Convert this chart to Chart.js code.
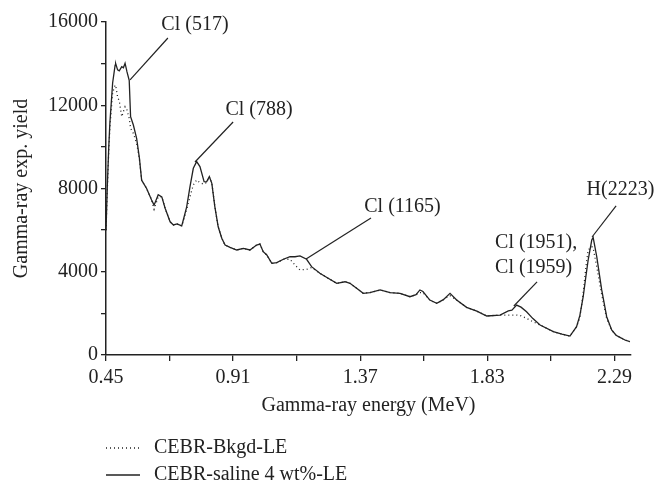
<!DOCTYPE html>
<html>
<head>
<meta charset="utf-8">
<script src="https://cdn.jsdelivr.net/npm/chart.js@4"></script>
<style>
  body{margin:0;background:#fff;}
  #wrap{width:657px;height:483px;}
</style>
</head>
<body>
<div id="wrap"><canvas id="chart" width="657" height="483"></canvas></div>
<script>
// Données
const energy=[0.450,0.455,0.460,0.464,0.474,0.483,0.485,0.492,0.498,0.507,
  0.513,0.519,0.526,0.534,0.539,0.549,0.561,0.571,0.579,0.597,
  0.615,0.624,0.639,0.652,0.664,0.682,0.694,0.707,0.724,0.730,
  0.742,0.754,0.766,0.778,0.790,0.805,0.814,0.824,0.833,0.844,
  0.856,0.869,0.881,0.899,0.923,0.947,0.971,0.995,1.007,1.019,
  1.032,1.050,1.068,1.092,1.116,1.134,1.152,1.176,1.194,1.224,
  1.254,1.285,1.315,1.333,1.357,1.381,1.405,1.442,1.478,1.514,
  1.550,1.572,1.586,1.597,1.622,1.647,1.671,1.695,1.719,1.755,
  1.792,1.828,1.876,1.906,1.919,1.936,1.952,1.972,1.995,2.021,
  2.069,2.100,2.129,2.153,2.165,2.177,2.187,2.195,2.208,2.213,
  2.226,2.244,2.262,2.280,2.296,2.310,2.328,2.346];

const saline=[6000,8200,10000,11150,13070,13930,14000,13700,13650,13850,
  13800,14020,13600,13200,11450,11050,10400,9450,8400,8000,
  7450,7200,7700,7600,7050,6400,6250,6300,6200,6500,
  7120,8090,8970,9290,9050,8330,8320,8570,8250,7120,
  6160,5610,5285,5175,5045,5125,5045,5285,5330,4965,
  4805,4405,4435,4600,4725,4720,4760,4600,4245,3925,
  3685,3445,3520,3445,3205,2965,3000,3125,3000,2965,
  2800,2900,3125,3050,2640,2480,2660,2965,2640,2290,
  2110,1875,1920,2120,2150,2400,2300,2080,1750,1440,
  1120,1000,910,1360,1900,2800,3800,4565,5525,5650,
  4725,3125,1840,1200,950,850,720,640];

const bkgd=[6000,8000,9800,10900,12600,12970,12950,12400,12200,11450,
  11700,11930,11770,11370,10900,10650,10170,9400,8400,8000,
  7450,7000,7600,7600,7050,6400,6250,6300,6200,6450,
  7000,7610,8170,8410,8280,8200,8300,8570,8250,7120,
  6160,5610,5285,5175,5045,5125,5045,5285,5330,4965,
  4805,4405,4435,4600,4600,4325,4085,4115,4200,3925,
  3685,3445,3520,3445,3205,2965,3000,3125,3000,2965,
  2800,2900,3000,3000,2640,2480,2660,2850,2640,2290,
  2110,1875,1920,1920,1920,1920,1880,1760,1600,1440,
  1120,1000,910,1360,1800,3000,4245,5045,5205,5150,
  4245,2900,1750,1200,950,850,720,640];

const xTickValues=[0.45,0.68,0.91,1.14,1.37,1.60,1.83,2.06,2.29];
const xTickLabels=["0.45","","0.91","","1.37","","1.83","","2.29"];
const yTickValues=[0,2000,4000,6000,8000,10000,12000,14000,16000];
const yTickLabels=["0","","4000","","8000","","12000","","16000"];

// Étiquettes des pics : texte, position du texte, trait de rappel (en unités des axes)
const peakLabels=[
  {text:["Cl (517)"],at:[0.772,15857],align:"center",from:[0.674,15230],to:[0.537,13215]},
  {text:["Cl (788)"],at:[1.004,11772],align:"center",from:[0.910,11195],to:[0.772,9275]},
  {text:["Cl (1165)"],at:[1.523,7111],align:"center",from:[1.409,6580],to:[1.174,4610]},
  {text:["Cl (1951),","Cl (1959)"],at:[1.858,5382],align:"left",from:[2.010,3510],to:[1.926,2355]},
  {text:["H(2223)"],at:[2.312,7928],align:"center",from:[2.296,7160],to:[2.209,5670]}
];

const FONT="'Liberation Serif', 'DejaVu Serif', serif";
const FSIZE=20;
const INK="#222";
Chart.defaults.font.family=FONT;
Chart.defaults.font.size=FSIZE;
Chart.defaults.color=INK;

// ---------- Plugins ----------
const peakLabelPlugin={
  id:"peakLabels",
  afterDatasetsDraw(chart){
    const {ctx,scales:{x,y}}=chart;
    ctx.save();
    ctx.strokeStyle=INK; ctx.lineWidth=1.2; ctx.fillStyle=INK;
    ctx.font=`${FSIZE}px ${FONT}`; ctx.textBaseline="middle";
    peakLabels.forEach(p=>{
      ctx.beginPath();
      ctx.moveTo(x.getPixelForValue(p.from[0]),y.getPixelForValue(p.from[1]));
      ctx.lineTo(x.getPixelForValue(p.to[0]),y.getPixelForValue(p.to[1]));
      ctx.stroke();
      ctx.textAlign=p.align;
      const tx=x.getPixelForValue(p.at[0]),ty=y.getPixelForValue(p.at[1]);
      p.text.forEach((t,i)=>ctx.fillText(t,tx,ty+i*25));
    });
    ctx.restore();
  }
};

const legendPlugin={
  id:"bottomLegend",
  afterDraw(chart){
    const {ctx,chartArea}=chart;
    ctx.save();
    ctx.font=`${FSIZE}px ${FONT}`; ctx.textBaseline="middle"; ctx.textAlign="left"; ctx.fillStyle=INK;
    chart.data.datasets.forEach((ds,i)=>{
      const yy=chartArea.bottom+93+i*27;
      ctx.beginPath();
      ctx.strokeStyle=ds.borderColor; ctx.lineWidth=ds.borderWidth;
      ctx.setLineDash(ds.borderDash||[]);
      ctx.moveTo(chartArea.left,yy); ctx.lineTo(chartArea.left+34,yy);
      ctx.stroke();
      ctx.setLineDash([]);
      ctx.fillText(ds.label,chartArea.left+48,yy);
    });
    ctx.restore();
  }
};

// ---------- Chart ----------
new Chart(document.getElementById("chart"),{
  type:"line",
  data:{datasets:[
    {label:"CEBR-Bkgd-LE",data:energy.map((e,i)=>({x:e,y:bkgd[i]})),borderColor:INK,borderWidth:1.3,borderDash:[1,3],pointRadius:0,tension:0,fill:false},
    {label:"CEBR-saline 4 wt%-LE",data:energy.map((e,i)=>({x:e,y:saline[i]})),borderColor:INK,borderWidth:1.3,pointRadius:0,tension:0,fill:false}
  ]},
  options:{
    responsive:false,animation:false,
    layout:{padding:{left:0,right:26,top:22,bottom:53}},
    plugins:{legend:{display:false},tooltip:{enabled:false}},
    scales:{
      x:{type:"linear",min:0.45,max:2.35,
        afterBuildTicks:s=>{s.ticks=xTickValues.map(v=>({value:v}));},
        afterFit:s=>{s.height=75;},
        ticks:{autoSkip:false,maxRotation:0,padding:5,callback:(v,i)=>xTickLabels[i]},
        grid:{drawOnChartArea:false,tickLength:6,color:INK,lineWidth:1.3},
        border:{color:INK,width:1.5},
        title:{display:true,text:"Gamma-ray energy (MeV)",padding:{top:0,bottom:12}}
      },
      y:{min:0,max:16000,
        afterBuildTicks:s=>{s.ticks=yTickValues.map(v=>({value:v}));},
        afterFit:s=>{s.width=106;},
        ticks:{autoSkip:false,padding:3,callback:(v,i)=>yTickLabels[i]},
        grid:{drawOnChartArea:false,tickLength:5,color:INK,lineWidth:1.3},
        border:{color:INK,width:1.5},
        title:{display:true,text:"Gamma-ray exp. yield",padding:{top:10,bottom:0}}
      }
    }
  },
  plugins:[peakLabelPlugin,legendPlugin]
});
</script>
</body>
</html>
